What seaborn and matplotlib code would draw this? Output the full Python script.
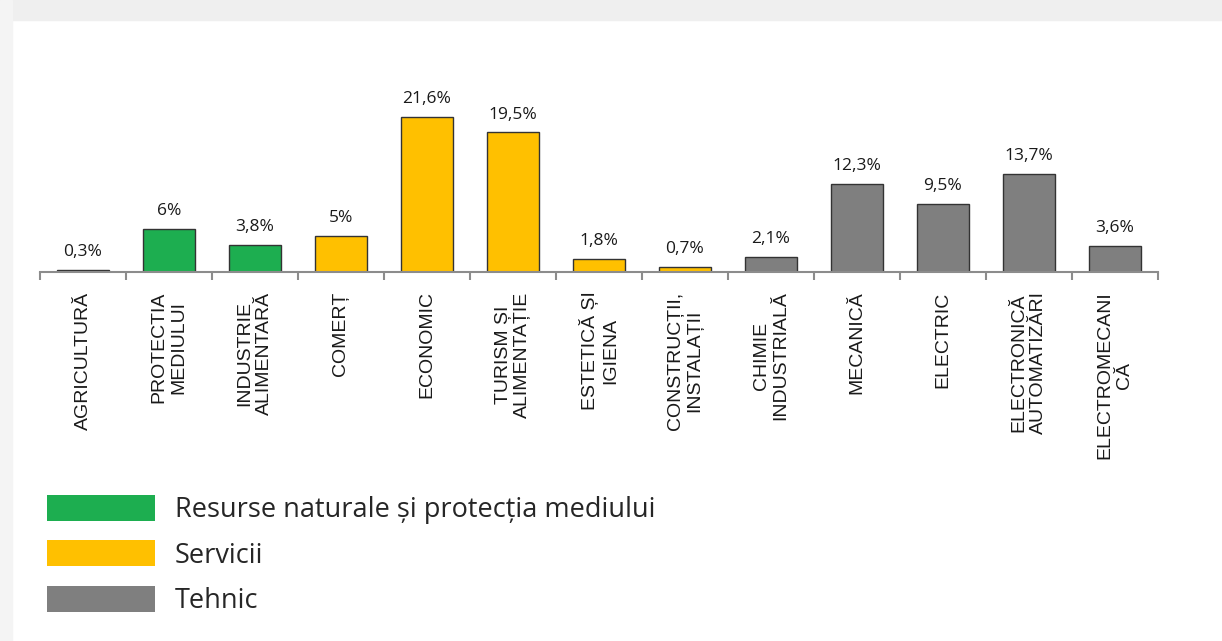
import pandas as pd
import matplotlib.pyplot as plt
import matplotlib.patches as mpatches
import seaborn as sns

categories = ['AGRICULTURĂ', 'PROTECTIA\nMEDIULUI', 'INDUSTRIE\nALIMENTARĂ', 'COMERȚ',
              'ECONOMIC', 'TURISM ȘI\nALIMENTAȚIE', 'ESTETICĂ ȘI\nIGIENA',
              'CONSTRUCȚII,\nINSTALAȚII', 'CHIMIE\nINDUSTRIALĂ', 'MECANICĂ',
              'ELECTRIC', 'ELECTRONICĂ\nAUTOMATIZĂRI', 'ELECTROMECANI\nCĂ']
values = [0.3, 6, 3.8, 5, 21.6, 19.5, 1.8, 0.7, 2.1, 12.3, 9.5, 13.7, 3.6]
value_labels = ['0,3%', '6%', '3,8%', '5%', '21,6%', '19,5%', '1,8%', '0,7%',
                '2,1%', '12,3%', '9,5%', '13,7%', '3,6%']
groups = ['Resurse naturale și protecția mediului'] * 3 + ['Servicii'] * 5 + ['Tehnic'] * 5
group_names = ['Resurse naturale și protecția mediului', 'Servicii', 'Tehnic']
group_colors = ['#1DAE50', '#FFC000', '#7F7F7F']

df = pd.DataFrame({'cat': categories, 'val': values, 'grp': groups})

sns.set_style('white')
plt.rcParams['font.family'] = ['Open Sans', 'DejaVu Sans']

fig = plt.figure(figsize=(12.22, 6.41), dpi=100)
# faint band of the page background
fig.patches.append(mpatches.Rectangle((0, 1 - 20 / 641), 1, 20 / 641, transform=fig.transFigure,
                                      color='#efefef', zorder=0))
fig.patches.append(mpatches.Rectangle((0, 0), 12 / 1222, 1, transform=fig.transFigure,
                                      color='#f4f4f4', zorder=0))

ax = fig.add_axes([40 / 1222, 1 - 272 / 641, 1118 / 1222, 172 / 641])
sns.barplot(data=df, x='cat', y='val', hue='grp', hue_order=group_names,
            palette=group_colors, saturation=1, dodge=False, width=0.6,
            edgecolor='#333333', linewidth=1, legend=False, ax=ax)

for c in ax.containers:
    labs = [value_labels[int(round(b.get_x() + b.get_width() / 2))]
            if b.get_height() > 0 else '' for b in c]
    ax.bar_label(c, labels=labs, padding=7, fontsize=12.5, color='#1a1a1a',
                 family=['Open Sans', 'DejaVu Sans'])

ax.set_xlim(-0.5, 12.5)
ax.set_ylim(0, 24)
ax.set_xlabel('')
ax.set_ylabel('')
ax.set_yticks([])
for s in ['top', 'right', 'left']:
    ax.spines[s].set_visible(False)
ax.spines['bottom'].set_color('#8c8c8c')
ax.spines['bottom'].set_linewidth(1.5)

ax.set_xticks(range(len(categories)))
ax.set_xticklabels(categories, rotation=90, ha='center', va='top', multialignment='center',
                   fontsize=14, family=['Liberation Sans', 'DejaVu Sans'], color='#1a1a1a',
                   linespacing=1.2)
ax.tick_params(axis='x', which='major', length=0, pad=14)
ax.set_xticks([i - 0.5 for i in range(len(categories) + 1)], minor=True)
ax.tick_params(axis='x', which='minor', length=6, width=1.5, color='#8c8c8c', bottom=True)

handles = [mpatches.Patch(facecolor=col, edgecolor='none') for col in group_colors]
fig.legend(handles, group_names, loc='upper left', bbox_to_anchor=(47 / 1222, 1 - 495 / 641),
           frameon=False, fontsize=19.5, handlelength=4.0, handleheight=1.1,
           handletextpad=0.72, labelspacing=0.6, borderpad=0, borderaxespad=0)

fig.savefig('out.png', dpi=100)
